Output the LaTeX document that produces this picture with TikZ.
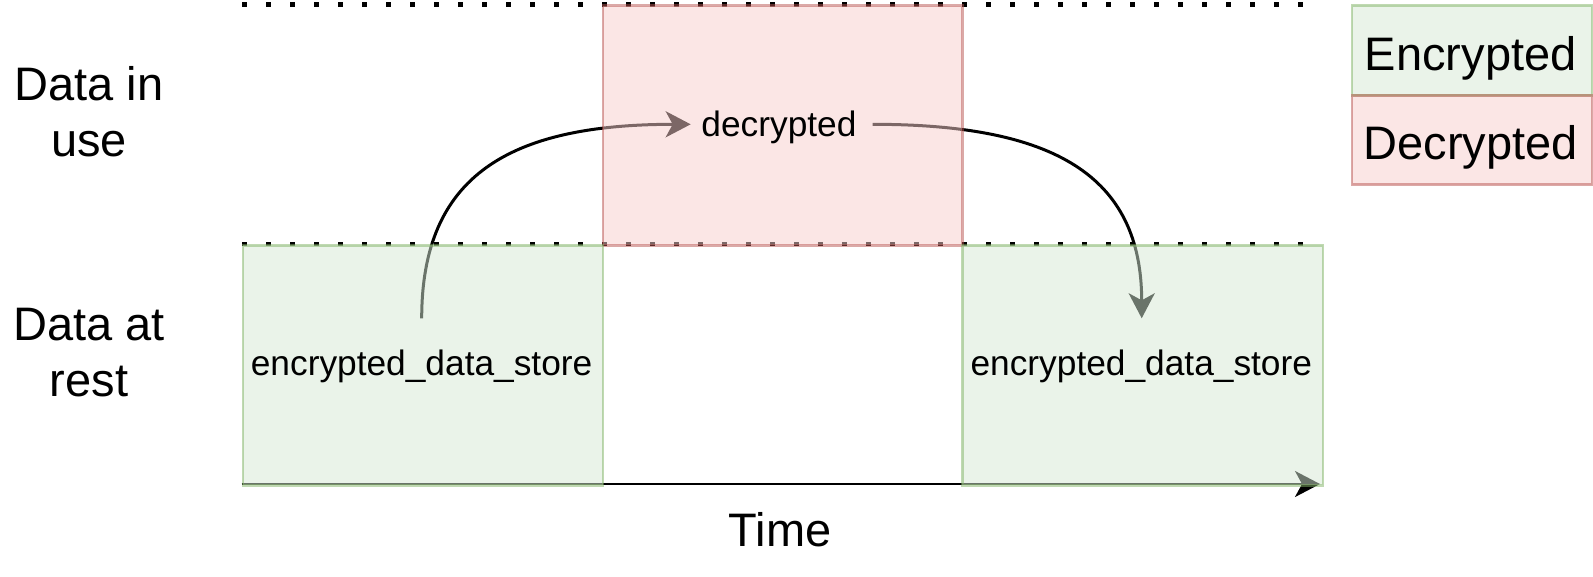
\documentclass[tikz,border=0pt]{standalone}
\usepackage{fontspec}
\setmainfont{Liberation Sans}
\usetikzlibrary{arrows.meta}
\definecolor{gfill}{HTML}{D5E8D4}
\definecolor{gdraw}{HTML}{82B366}
\definecolor{rfill}{HTML}{F8CECC}
\definecolor{rdraw}{HTML}{B85450}
\tikzset{
  bigtext/.style={font=\fontsize{47}{56.7}\selectfont, inner sep=0pt, anchor=base, align=center},
  smalltext/.style={font=\fontsize{35.3}{42}\selectfont, inner sep=0pt, anchor=base},
  encbox/.style={fill=gfill, draw=gdraw, fill opacity=0.5, draw opacity=0.5, text opacity=1, line width=2.5pt, inner sep=0pt, anchor=north west},
  decbox/.style={fill=rfill, draw=rdraw, fill opacity=0.5, draw opacity=0.5, text opacity=1, line width=2.5pt, inner sep=0pt, anchor=north west},
  dotline/.style={line width=4.5pt, dash pattern=on 5pt off 19pt},
  tipstyle/.style={-{Stealth[length=25pt,width=26pt,inset=7pt]}},
  flow/.style={line width=3pt, tipstyle},
  axisline/.style={line width=2pt, tipstyle}
}
\begin{document}
\begin{tikzpicture}[x=1pt,y=-1pt]
\useasboundingbox (0,0) rectangle (1593,576);
% coordinates
\coordinate (dotTopS) at (242,4.3);
\coordinate (dotTopE) at (1303,4.3);
\coordinate (dotMidS) at (242,244);
\coordinate (dotMidE) at (1303,244);
\coordinate (axS) at (241.7,484);
\coordinate (axE) at (1320,484);
\coordinate (c1s) at (421.7,318.3);
\coordinate (c1e) at (690.7,124.3);
\coordinate (c2s) at (872.7,124.3);
\coordinate (c2e) at (1141.7,318.3);
% lines below the boxes
\draw[dotline] (dotTopS) -- (dotTopE);
\draw[dotline] (dotMidS) -- (dotMidE);
\draw[axisline] (axS) -- (axE);
\draw[flow] (c1s) .. controls (421.7,175) and (510,124.3) .. (c1e);
\draw[flow] (c2s) .. controls (1053.4,124.3) and (1141.7,175) .. (c2e);
% boxes
\node[decbox, minimum width=359.5pt, minimum height=239.7pt] (useBox) at (601.5,4.3) {};
\node[encbox, minimum width=359.8pt, minimum height=240pt] (restL) at (241.7,244) {};
\node[encbox, minimum width=360.7pt, minimum height=240pt] (restR) at (961,244) {};
% legend
\node[encbox, minimum width=240pt, minimum height=90.3pt] (legEnc) at (1350.7,4) {};
\node[decbox, minimum width=240pt, minimum height=89pt] (legDec) at (1350.7,94.3) {};
\node[bigtext] (legEncT) at (1470.7,70) {Encrypted};
\node[bigtext] (legDecT) at (1470.7,159.3) {Decrypted};
% texts (base anchor = baseline of last line)
\node[bigtext] (datause) at (89,156.7) {Data in\\use};
\node[bigtext] (datarest) at (89,396.7) {Data at\\rest};
\node[bigtext] (time) at (780,546.7) {Time};
\node[smalltext] (decr) at (779,136.7) {decrypted};
\node[smalltext] (enc1) at (421.6,375.5) {encrypted\_data\_store};
\node[smalltext] (enc2) at (1141.3,375.5) {encrypted\_data\_store};
\end{tikzpicture}
\end{document}
